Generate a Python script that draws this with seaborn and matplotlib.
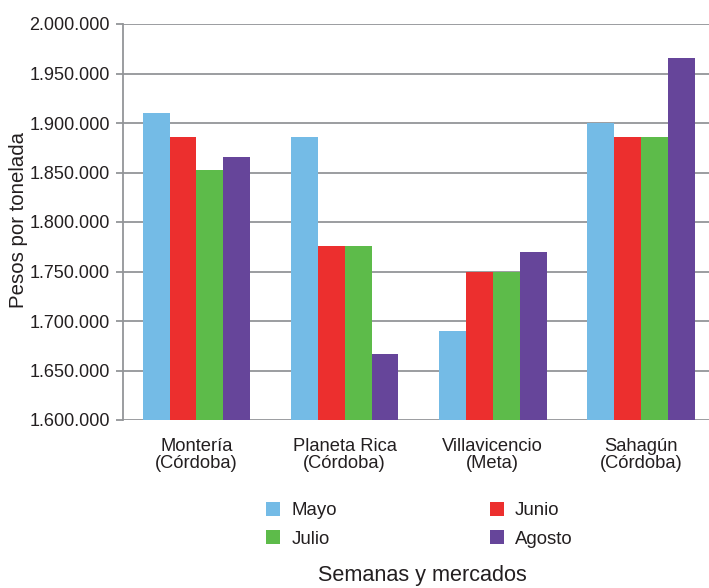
import matplotlib
matplotlib.use("Agg")
import matplotlib.pyplot as plt
from matplotlib.ticker import FuncFormatter
import seaborn as sns
import pandas as pd

# ---- data ----
mercados = ["Montería\n(Córdoba)", "Planeta Rica\n(Córdoba)", "Villavicencio\n(Meta)", "Sahagún\n(Córdoba)"]
meses = ["Mayo", "Junio", "Julio", "Agosto"]
mayo = [1910000, 1886000, 1690000, 1900000]
junio = [1886000, 1776000, 1750000, 1886000]
julio = [1853000, 1776000, 1750000, 1886000]
agosto = [1866000, 1667000, 1770000, 1966000]
colores = ["#74BBE6", "#EC2F2E", "#5DBB4A", "#66459A"]
yticks = [1600000, 1650000, 1700000, 1750000, 1800000, 1850000, 1900000, 1950000, 2000000]

series = {"Mayo": mayo, "Junio": junio, "Julio": julio, "Agosto": agosto}
rows = []
for mes in meses:
    for m, v in zip(mercados, series[mes]):
        rows.append({"mercado": m, "mes": mes, "precio": v})
df = pd.DataFrame(rows)

sns.set_theme(style="white")
plt.rcParams["font.family"] = ["Liberation Sans", "DejaVu Sans"]

txt = "#231F20"
grid = "#939598"

fig = plt.figure(figsize=(7.09, 5.88), dpi=100)
ax = fig.add_axes([123 / 709, 1 - 420 / 588, 1 - 123 / 709, (420 - 24) / 588])

sns.barplot(data=df, x="mercado", y="precio", hue="mes", hue_order=meses,
            palette=colores, saturation=1, width=0.726, gap=0, errorbar=None,
            linewidth=0, ax=ax, legend=True)

handles, labels = ax.get_legend_handles_labels()
ax.get_legend().remove()

ax.set_ylim(1600000, 2000000)
ax.set_xlim(-0.496, 3.459)
ax.set_yticks(yticks)
ax.yaxis.set_major_formatter(FuncFormatter(lambda v, p: f"{v:,.0f}".replace(",", ".")))
ax.set_axisbelow(True)
ax.grid(axis="y", color=grid, linewidth=1.3)
ax.grid(axis="x", visible=False)
for s in ["top", "right", "bottom"]:
    ax.spines[s].set_visible(False)
ax.spines["left"].set_color(grid)
ax.spines["left"].set_linewidth(1.3)
ax.tick_params(axis="y", left=True, length=5, width=1.3, color=grid, pad=4.3,
               labelsize=13, labelcolor=txt)
ax.tick_params(axis="x", bottom=False, length=0, pad=13, labelsize=13.2,
               labelcolor=txt)
for t in ax.get_xticklabels():
    t.set_linespacing(0.98)
ax.set_xlabel("")
ax.set_ylabel("")

fig.text(19 / 709, 1 - 220 / 588, "Pesos por tonelada", rotation=90, ha="center",
         va="center", fontsize=14.7, color=txt)
fig.text(422 / 709, 1 - 576 / 588, "Semanas y mercados", ha="center", va="center",
         fontsize=15.6, color=txt)

order = [0, 2, 1, 3]
leg = fig.legend([handles[i] for i in order], [labels[i] for i in order], ncol=2,
                 loc="upper left", bbox_to_anchor=(266 / 709, 1 - 502 / 588),
                 frameon=False, fontsize=13.4, handlelength=0.75, handleheight=0.75,
                 handletextpad=0.62, columnspacing=8.2, labelspacing=0.6,
                 borderpad=0, borderaxespad=0)
for t in leg.get_texts():
    t.set_color(txt)

fig.savefig("out.png", dpi=100)
